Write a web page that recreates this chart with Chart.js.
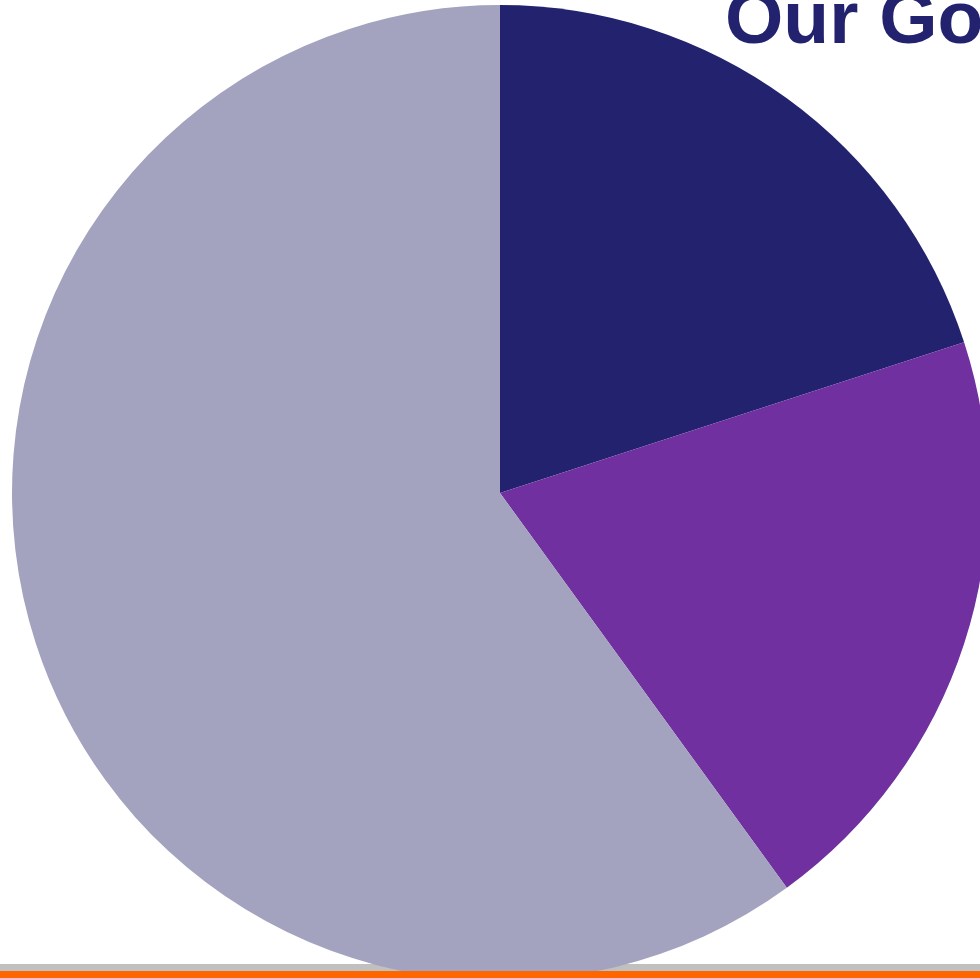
<!DOCTYPE html>
<html>
<head>
<meta charset="utf-8">
<script src="https://cdn.jsdelivr.net/npm/chart.js@4"></script>
<style>
  html, body { margin: 0; padding: 0; width: 980px; height: 978px; overflow: hidden; background: #fff; }
  #greyRule { position: absolute; left: 0; top: 964px; width: 980px; height: 7px; background: #c0c0c0; }
  #orangeRule { position: absolute; left: 0; top: 971px; width: 980px; height: 7px; background: #ff6600; z-index: 3; }
  #pieWrap { position: absolute; left: 12px; top: 5px; z-index: 2; }
  #title {
    position: absolute; left: 725px; top: -20px; z-index: 4;
    font-family: "Liberation Sans", Arial, sans-serif; font-weight: bold;
    font-size: 75px; line-height: 1; color: #22226e; white-space: nowrap;
  }
</style>
</head>
<body>
<div id="greyRule"></div>
<div id="pieWrap"><canvas id="goalsChart" width="976" height="976"></canvas></div>
<div id="orangeRule"></div>
<div id="title">Our Goals</div>
<script>
  const labels = ['Goal 1', 'Goal 2', 'Remaining'];
  const values = [20, 20, 60];
  const colors = ['#22226e', '#7030a0', '#a3a3bf'];

  new Chart(document.getElementById('goalsChart'), {
    type: 'pie',
    data: {
      labels: labels,
      datasets: [{
        data: values,
        backgroundColor: colors,
        borderWidth: 0
      }]
    },
    options: {
      responsive: false,
      animation: false,
      layout: { padding: 0 },
      plugins: {
        legend: { display: false },
        tooltip: { enabled: false }
      }
    }
  });
</script>
</body>
</html>
